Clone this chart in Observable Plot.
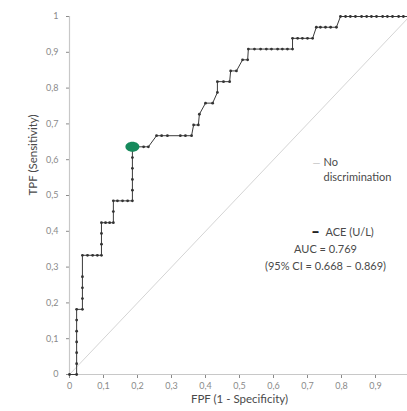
<!DOCTYPE html>
<html><head><meta charset="utf-8">
<script src="https://cdn.jsdelivr.net/npm/d3@7"></script>
<script src="https://cdn.jsdelivr.net/npm/@observablehq/plot@0.6"></script>
<style>
html,body{margin:0;padding:0;background:#fff;overflow:hidden;width:407px;height:411px}
#chart{width:407px;height:411px;overflow:hidden}
#chart svg{display:block;max-width:none !important}
</style></head><body><div id="chart"></div>
<script>
// ROC curve points (FPF, TPF)
const fpf = [
  0, 0.021,
  0.021, 0.021, 0.021, 0.021, 0.021, 0.021,
  0.038,
  0.038, 0.038, 0.038,
  0.038, 0.053, 0.068, 0.082, 0.094,
  0.094, 0.094,
  0.094, 0.106, 0.118, 0.129,
  0.129,
  0.129, 0.141, 0.156, 0.171, 0.185,
  0.185, 0.185, 0.185, 0.185, 0.185,
  0.200, 0.218, 0.232,
  0.256, 0.271, 0.288, 0.326, 0.341, 0.359,
  0.365, 0.379,
  0.382,
  0.400, 0.421,
  0.435,
  0.435, 0.453, 0.471,
  0.474, 0.491,
  0.509, 0.524,
  0.526, 0.544, 0.562, 0.579, 0.594, 0.612, 0.626, 0.641, 0.656,
  0.656, 0.671, 0.685, 0.700, 0.715,
  0.726, 0.738, 0.753, 0.768, 0.785,
  0.797, 0.812, 0.826, 0.841, 0.859, 0.874, 0.888, 0.903, 0.921, 0.935, 0.950, 0.968, 0.982, 1
];
const tpf = [
  0, 0,
  0.030, 0.061, 0.091, 0.121, 0.152, 0.182,
  0.182,
  0.212, 0.242, 0.273,
  0.333, 0.333, 0.333, 0.333, 0.333,
  0.364, 0.394,
  0.424, 0.424, 0.424, 0.424,
  0.455,
  0.485, 0.485, 0.485, 0.485, 0.485,
  0.515, 0.545, 0.576, 0.606, 0.636,
  0.636, 0.636, 0.636,
  0.667, 0.667, 0.667, 0.667, 0.667, 0.667,
  0.697, 0.697,
  0.727,
  0.758, 0.758,
  0.788,
  0.818, 0.818, 0.818,
  0.848, 0.848,
  0.879, 0.879,
  0.909, 0.909, 0.909, 0.909, 0.909, 0.909, 0.909, 0.909, 0.909,
  0.939, 0.939, 0.939, 0.939, 0.939,
  0.970, 0.970, 0.970, 0.970, 0.970,
  1, 1, 1, 1, 1, 1, 1, 1, 1, 1, 1, 1, 1, 1
];
// Optimal cut-off point (highlighted)
const cutFpf = [0.185];
const cutTpf = [0.636];
// No-discrimination reference line
const refLine = [0, 1];
// Ticks
const tickValues = [0, 0.1, 0.2, 0.3, 0.4, 0.5, 0.6, 0.7, 0.8, 0.9, 1];
const tickLabels = ["0", "0,1", "0,2", "0,3", "0,4", "0,5", "0,6", "0,7", "0,8", "0,9", "1"];
// Texts
const xTitle = "FPF (1 - Specificity)";
const yTitle = "TPF (Sensitivity)";
const legendNo = ["No", "discrimination"];
const legendAce = "ACE (U/L)";
const aucLines = ["AUC = 0.769", "(95% CI = 0.668 – 0.869)"];

const roc = fpf.map((x, i) => ({x, y: tpf[i]}));
const cut = cutFpf.map((x, i) => ({x, y: cutTpf[i]}));
const diag = refLine.map(v => ({x: v, y: v}));

const ellipse = {
  draw(ctx, size) {
    const r = Math.sqrt(size / Math.PI);
    const rx = r * 1.4, ry = r, k = 0.5523;
    ctx.moveTo(rx, 0);
    ctx.bezierCurveTo(rx, ry * k, rx * k, ry, 0, ry);
    ctx.bezierCurveTo(-rx * k, ry, -rx, ry * k, -rx, 0);
    ctx.bezierCurveTo(-rx, -ry * k, -rx * k, -ry, 0, -ry);
    ctx.bezierCurveTo(rx * k, -ry, rx, -ry * k, rx, 0);
    ctx.closePath();
  }
};
const fmt = d => tickLabels[tickValues.findIndex(t => Math.abs(t - d) < 1e-9)];
const txt = "#4a4a4a";

const plot = Plot.plot({
  width: 430, height: 411,
  marginLeft: 69, marginRight: 21, marginTop: 16, marginBottom: 37,
  style: {fontFamily: "Lato, 'Open Sans', sans-serif", fontSize: "9px", color: "#8a8a8a", background: "white", maxWidth: "none"},
  x: {domain: [0, 1], ticks: tickValues, tickFormat: fmt, tickSize: 4, tickPadding: 4, label: null},
  y: {domain: [0, 1], ticks: tickValues, tickFormat: fmt, tickSize: 3, tickPadding: 8, label: null},
  marks: [
    Plot.line(diag, {x: "x", y: "y", stroke: "#d4d4d4", strokeWidth: 1}),
    Plot.ruleX([0], {stroke: "#c8c8c8", strokeWidth: 1.2}),
    Plot.ruleY([0], {stroke: "#c8c8c8", strokeWidth: 1.2}),
    Plot.line(roc, {x: "x", y: "y", stroke: "#3a3a3a", strokeWidth: 1}),
    Plot.dot(roc, {x: "x", y: "y", r: 1.4, fill: "#333", stroke: "none"}),
    Plot.dot(cut, {x: "x", y: "y", r: 5, symbol: ellipse, fill: "#168a5c", stroke: "none"}),
    // axis titles
    Plot.text([xTitle], {frameAnchor: "bottom", dy: 28, fontSize: 11.5, fill: txt}),
    Plot.text([yTitle], {frameAnchor: "left", dx: -36, rotate: -90, fontSize: 11.5, fill: txt}),
    // legend: no discrimination
    Plot.text(["—"], {frameAnchor: "top-left", dx: 243, dy: 142, textAnchor: "start", fontSize: 10, fill: "#bdbdbd"}),
    Plot.text([legendNo[0]], {frameAnchor: "top-left", dx: 254, dy: 142, textAnchor: "start", fontSize: 11, fill: txt}),
    Plot.text([legendNo[1]], {frameAnchor: "top-left", dx: 254, dy: 157, textAnchor: "start", fontSize: 11, fill: txt}),
    // legend: ACE
    Plot.text(["▬"], {frameAnchor: "top-left", dx: 243, dy: 212, textAnchor: "start", fontSize: 6, fill: "#222"}),
    Plot.text([legendAce], {frameAnchor: "top-left", dx: 256, dy: 212, textAnchor: "start", fontSize: 11, fill: txt}),
    Plot.text([aucLines[0]], {frameAnchor: "top-left", dx: 256, dy: 229, textAnchor: "middle", fontSize: 11, fill: txt}),
    Plot.text([aucLines[1]], {frameAnchor: "top-left", dx: 256, dy: 246, textAnchor: "middle", fontSize: 11, fill: txt})
  ]
});
document.getElementById("chart").appendChild(plot);
</script>
</body></html>
